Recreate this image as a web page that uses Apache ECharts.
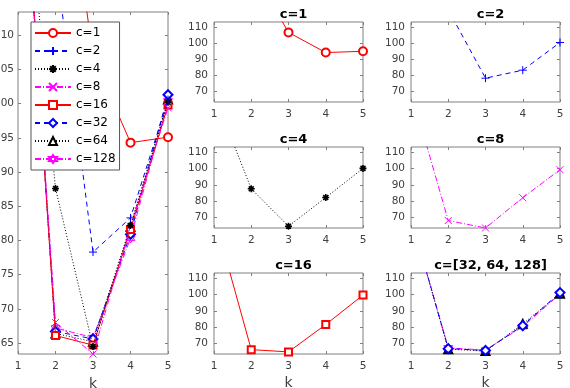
<!DOCTYPE html>
<html>
<head>
<meta charset="utf-8">
<script src="https://cdn.jsdelivr.net/npm/echarts@6/dist/echarts.min.js"></script>
<style>
  html, body { margin: 0; padding: 0; background: #fff; }
  #chart { width: 570px; height: 388px; }
</style>
</head>
<body>
<div id="chart"></div>
<script>
// k on the x axis, one value per k for each c
var kValues = [1, 2, 3, 4, 5];
var c1 = [185, 147, 106.9, 94.3, 95.1];
var c2 = [160, 121, 78.3, 83.3, 100.6];
var c4 = [146, 87.6, 64.5, 82.2, 100.2];
var c8 = [148, 68.0, 63.4, 82.1, 99.4];
var c16 = [149, 66.1, 64.7, 81.6, 99.8];
var c32 = [148, 66.7, 65.6, 80.9, 101.3];
var c64 = [148, 66.4, 65.2, 82.0, 100.6];
var c128 = [147, 67.2, 65.8, 80.3, 100.4];

var bigTicks = [65, 70, 75, 80, 85, 90, 95, 100, 105, 110];
var smallTicks = [70, 80, 90, 100, 110];

var FONT = "'DejaVu Sans', sans-serif";
var AXIS_GRAY = '#808080';
var LABEL_GRAY = '#404040';

// marker paths (matlab style)
var PLUS = 'path://M0,5L10,5M5,0L5,10';
var CROSS = 'path://M1,1L9,9M9,1L1,9';
var STAR = 'path://M0,5L10,5M5,0L5,10M1.5,1.5L8.5,8.5M8.5,1.5L1.5,8.5';
var HEXA = 'path://M5,0L9.33,7.5L0.67,7.5ZM5,10L0.67,2.5L9.33,2.5Z';

var curves = [
  { name: 'c=1', data: c1, color: '#ff0000', dash: 'solid', symbol: 'emptyCircle', size: 8, bw: 1 },
  { name: 'c=2', data: c2, color: '#0000ff', dash: [5, 4], symbol: PLUS, size: 8, bw: 1 },
  { name: 'c=4', data: c4, color: '#000000', dash: [1, 2], symbol: STAR, size: 7, bw: 1.6 },
  { name: 'c=8', data: c8, color: '#ff00ff', dash: [6, 2, 1, 2], symbol: CROSS, size: 7, bw: 1 },
  { name: 'c=16', data: c16, color: '#ff0000', dash: 'solid', symbol: 'emptyRect', size: 7, bw: 1 },
  { name: 'c=32', data: c32, color: '#0000ff', dash: [5, 4], symbol: 'emptyDiamond', size: 9, bw: 1 },
  { name: 'c=64', data: c64, color: '#000000', dash: [1, 2], symbol: 'emptyTriangle', size: 8, bw: 1 },
  { name: 'c=128', data: c128, color: '#ff00ff', dash: [6, 2, 1, 2], symbol: HEXA, size: 9, bw: 1 }
];

// grid boxes: left panel first, then the six small ones
var grids = [
  { left: 18, top: 12, width: 150, height: 342 },
  { left: 214, top: 22, width: 149, height: 80 },
  { left: 411, top: 22, width: 149, height: 80 },
  { left: 214, top: 147, width: 149, height: 81 },
  { left: 411, top: 147, width: 149, height: 81 },
  { left: 214, top: 273, width: 149, height: 81 },
  { left: 411, top: 273, width: 149, height: 81 }
];
var panelTitles = ['', 'c=1', 'c=2', 'c=4', 'c=8', 'c=16', 'c=[32, 64, 128]'];
// which curves go in which panel
var panelCurves = [[0, 1, 2, 3, 4, 5, 6, 7], [0], [1], [2], [3], [4], [5, 6, 7]];
var showK = [true, false, false, false, false, true, true];

function toPoints (arr) {
  return kValues.map(function (k, i) { return [k, arr[i]] })
}

var tickStyle = { inside: true, length: 3, lineStyle: { color: AXIS_GRAY } };
var gridOpts = [], xAxes = [], yAxes = [], mirrorX = [], mirrorY = [], titles = [], series = [];

grids.forEach(function (g, gi) {
  gridOpts.push({
    left: g.left, top: g.top, width: g.width, height: g.height,
    outerBoundsMode: 'none', containLabel: false,
    show: true, borderColor: AXIS_GRAY, borderWidth: 1, backgroundColor: '#fff'
  });
  xAxes.push({
    gridIndex: gi, type: 'value', min: 1, max: 5, interval: 1, position: 'bottom',
    name: showK[gi] ? 'k' : '', nameLocation: 'middle', nameGap: 22,
    nameTextStyle: { fontFamily: FONT, fontSize: 14, color: LABEL_GRAY },
    axisLine: { show: false },
    axisTick: tickStyle,
    axisLabel: { fontFamily: FONT, fontSize: 10.5, color: LABEL_GRAY, margin: 7 },
    splitLine: { show: false }
  });
  // top ticks, matlab box style
  mirrorX.push({
    gridIndex: gi, type: 'value', min: 1, max: 5, interval: 1, position: 'top',
    axisLine: { show: false }, axisTick: tickStyle, axisLabel: { show: false }, splitLine: { show: false }
  });
  var ticks = gi === 0 ? bigTicks : smallTicks;
  yAxes.push({
    gridIndex: gi, type: 'value', min: 63.4, max: 113.4, position: 'left',
    axisLine: { show: false },
    axisTick: { inside: true, length: 3, customValues: ticks, lineStyle: { color: AXIS_GRAY } },
    axisLabel: { fontFamily: FONT, fontSize: 10.5, color: LABEL_GRAY, margin: gi === 0 ? 4 : 6, customValues: ticks },
    splitLine: { show: false }
  });
  mirrorY.push({
    gridIndex: gi, type: 'value', min: 63.4, max: 113.4, position: 'right',
    axisLine: { show: false },
    axisTick: { inside: true, length: 3, customValues: ticks, lineStyle: { color: AXIS_GRAY } },
    axisLabel: { show: false }, splitLine: { show: false }
  });
  if (panelTitles[gi]) {
    titles.push({
      text: panelTitles[gi],
      left: g.left + g.width / 2, top: g.top - 19, textAlign: 'center',
      textStyle: { fontFamily: FONT, fontSize: 13, fontWeight: 'bold', color: '#000' }
    });
  }
  panelCurves[gi].forEach(function (ci) {
    var c = curves[ci];
    series.push({
      name: gi === 0 ? c.name : 'p' + gi + ' ' + c.name,
      type: 'line',
      xAxisIndex: gi, yAxisIndex: gi,
      data: toPoints(c.data),
      symbol: c.symbol,
      symbolSize: c.size,
      clip: true,
      lineStyle: { color: c.color, width: 1, type: c.dash },
      itemStyle: {
        color: c.symbol.indexOf('path://') === 0 ? 'rgba(0,0,0,0)' : c.color,
        borderColor: c.color, borderWidth: c.bw
      },
      emphasis: { disabled: true },
      animation: false,
      z: 10 - ci
    })
  })
});

var chart = echarts.init(document.getElementById('chart'), null, { renderer: 'canvas' });
chart.setOption({
  backgroundColor: '#fff',
  animation: false,
  title: titles,
  legend: {
    data: curves.map(function (c) { return c.name }),
    orient: 'vertical',
    left: 31, top: 22, z: 50,
    padding: [5, 4, 5, 3],
    itemWidth: 36, itemHeight: 10, itemGap: 6,
    backgroundColor: '#fff',
    borderColor: '#555', borderWidth: 1, borderRadius: 0,
    textStyle: { fontFamily: FONT, fontSize: 12, color: '#000' },
    selectedMode: false
  },
  grid: gridOpts,
  xAxis: xAxes.concat(mirrorX),
  yAxis: yAxes.concat(mirrorY),
  series: series
});
</script>
</body>
</html>
